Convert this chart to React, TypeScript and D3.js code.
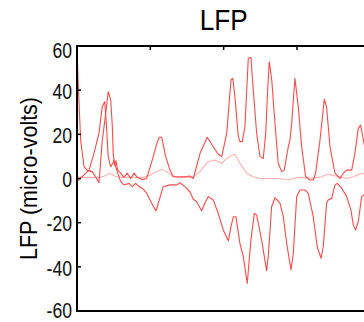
import { useRef, useEffect } from 'react'
import * as d3 from 'd3'

// time (ms) and value (micro-volts)
const upperT = [0, 1, 2.5, 4.8, 7, 10.4, 12.7, 15, 17.2, 19.6, 21.3, 23, 24.1, 24.7, 25.6, 26.6, 27.6, 29.8, 32, 34.3, 36.6, 38.9, 41.1, 44.5, 47.5, 49.8, 52, 54.5, 56.1, 57.7, 60.5, 63.4, 65.7, 70.2, 73.6, 77, 79.3, 83.9, 88.8, 92.9, 96.3, 98.7, 102.1, 105, 106.2, 107.7, 110, 111.1, 112.7, 114.5, 116.8, 118.6, 120.2, 122.5, 124.8, 127, 128.7, 130, 131.1, 132.8, 135, 137.2, 139.6, 141.3, 144.1, 145.2, 146.4, 148.6, 150.9, 153.2, 155.9, 158.9, 161.1, 162.7, 165.7, 168.6, 170.2, 172.5, 175.9, 179.3, 181.6, 183.9, 187.3, 189.5, 191.8, 193.4, 195.7, 198.4, 201.1]
const upperV = [58.5, 40, 17.4, 5.3, 3.8, 3, 0.8, -1.9, 17, 29.6, 39.3, 35.5, 23.5, 11.5, 6, 8, 4, 2.4, 0.5, 2.4, 0, 2.4, 0.5, -0.5, 0, 5, 9.9, 16, 18.7, 18.7, 9.9, 3.8, 0.8, 0.8, 0.8, 1.1, 0, 11.4, 18.7, 14.4, 11, 9.9, 20.5, 44.6, 45.4, 37, 19, 16.7, 16.7, 23.5, 54.4, 54.9, 40, 20.5, 9.9, 9.1, 20.5, 40, 52.9, 44.6, 25, 6.9, 3.1, 3.8, 14.4, 17.4, 25, 45.4, 32.5, 14.4, 0.8, -0.7, -0.7, 2.4, 17.4, 35.9, 32.5, 14.4, 2.4, 0, 2.4, 3.8, 3.8, 11.4, 22.7, 24.2, 16, 5, 2]

const lowerT = [0, 4.8, 8.2, 11.6, 15, 17.2, 18.9, 20, 21.3, 23, 24.5, 25.2, 26.4, 28, 29.8, 32, 35.5, 37.7, 40, 42.3, 44.5, 47.5, 50.9, 53.9, 56.1, 58.8, 63.4, 68, 70.2, 73.6, 77, 79.3, 81.6, 85, 87.3, 89.5, 92.9, 96.3, 99.7, 103.2, 105, 106.6, 108.4, 111.1, 113.4, 116.1, 118.6, 120.9, 122.5, 125.9, 129.3, 130.4, 132.7, 135, 138.4, 140.7, 143, 145.9, 147.5, 149.8, 152, 155.5, 157.7, 161.1, 163.8, 166.4, 167.9, 170.2, 171.3, 173.7, 175.9, 177.5, 180.5, 183.9, 186.8, 188.4, 190, 191.8, 194.1, 195.7, 199.8]
const lowerV = [-1.4, 1.6, 3.8, 11.5, 20.6, 32.5, 34.8, 25, 9.9, 5.3, 7, 8.4, 5.3, 2, -1.4, -2.9, -2.2, -3.7, -2.2, -3.7, -4.4, -6.6, -11.2, -14.7, -9.7, -3.7, -2.9, -2.9, -1.9, -3.7, -6, -9.4, -10.5, -14.6, -11, -8.2, -9.7, -15.8, -23.3, -28.2, -21.8, -17.3, -17.3, -29.4, -35.4, -47.5, -27.9, -15.8, -16.5, -27.9, -41.8, -35.4, -12.8, -8.7, -11.2, -17.3, -29.4, -41.4, -33.9, -8.2, -5.2, -5.2, -6.7, -17.3, -30.9, -36.1, -30.9, -11.2, -9.7, -9, -2.9, -2.2, -4.4, -8.2, -14.3, -21, -23.3, -19.6, -8.2, -7.5, -5]

const meanT = [0, 5.5, 15.7, 18.4, 22.5, 25.9, 29.3, 45, 49.8, 53.9, 57.7, 61.4, 64.8, 68.2, 79.1, 83.9, 89.3, 94.1, 98.7, 102.1, 106.4, 107.7, 111.1, 115.7, 120.2, 124.8, 133.6, 140.5, 144.1, 147.5, 152, 156.6, 162.3, 166.8, 171.3, 174.8, 179.3, 183.9, 188.4, 192.9, 195.7, 199.8]
const meanV = [0.7, 0.5, 0.5, 1, 2.4, 1, 0.5, 0.5, 1.5, 3, 4.2, 3, 1.2, 0.5, 0.5, 3.1, 7.6, 8.4, 6.9, 9.1, 10.8, 11, 6.9, 2.4, 0.8, 0, 0, -0.2, -0.7, 0, 0.5, 0.2, 0.3, 0.8, 2, 1.3, 0.8, 0, 0.8, 2, 2.4, 2.5]

const yTicks = [60, 40, 20, 0, -20, -40, -60]
const xTicks = [50, 100, 150]

const W = 364
const H = 322
const FONT = "'Liberation Sans', Arial, sans-serif"

export default function App() {
  const svgRef = useRef<SVGSVGElement>(null)

  useEffect(() => {
    if (!svgRef.current) return
    const svg = d3.select(svgRef.current)
    svg.selectAll('*').remove()

    const margin = { top: 46, left: 77, bottom: 11 }
    const plotW = 293.3
    const x = d3.scaleLinear().domain([0, 200]).range([margin.left, margin.left + plotW])
    const y = d3.scaleLinear().domain([-60, 60]).range([H - margin.bottom, margin.top])

    svg.append('defs').append('clipPath').attr('id', 'plot-clip')
      .append('rect')
      .attr('x', x(0)).attr('y', y(60))
      .attr('width', x(200) - x(0)).attr('height', y(-60) - y(60))

    const line = d3.line<[number, number]>().x(d => x(d[0])).y(d => y(d[1]))
    const series = [
      { t: meanT, v: meanV, color: '#ffb0b0' },
      { t: lowerT, v: lowerV, color: '#ff4a4a' },
      { t: upperT, v: upperV, color: '#ff4a4a' },
    ]
    const g = svg.append('g').attr('clip-path', 'url(#plot-clip)')
    series.forEach(s => {
      g.append('path')
        .datum(s.t.map((t, i) => [t, s.v[i]] as [number, number]))
        .attr('d', line)
        .attr('fill', 'none')
        .attr('stroke', s.color)
        .attr('stroke-width', 1.1)
        .attr('stroke-linejoin', 'round')
    })

    // frame
    svg.append('rect')
      .attr('x', x(0)).attr('y', y(60))
      .attr('width', x(200) - x(0)).attr('height', y(-60) - y(60))
      .attr('fill', 'none').attr('stroke', '#000').attr('stroke-width', 2)

    // inner ticks on top
    svg.append('g').selectAll('line').data(xTicks).join('line')
      .attr('x1', d => x(d)).attr('x2', d => x(d))
      .attr('y1', y(60)).attr('y2', y(60) + 4)
      .attr('stroke', '#000').attr('stroke-width', 1.5)

    // inner ticks on the left
    svg.append('g').selectAll('line').data(yTicks).join('line')
      .attr('x1', x(0)).attr('x2', x(0) + 4)
      .attr('y1', d => y(d)).attr('y2', d => y(d))
      .attr('stroke', '#000').attr('stroke-width', 1.5)

    svg.append('g').selectAll('text').data(yTicks).join('text')
      .attr('transform', d => `translate(72,${y(d) + (d === 60 ? 4 : d === -60 ? -1 : 1)}) scale(0.8,1)`)
      .attr('text-anchor', 'end')
      .attr('dominant-baseline', 'central')
      .style('font-family', FONT)
      .style('font-size', '22px')
      .style('fill', '#111')
      .text(d => String(d))

    svg.append('text')
      .attr('x', (x(0) + x(200)) / 2).attr('y', 30)
      .attr('text-anchor', 'middle')
      .attr('textLength', 48).attr('lengthAdjust', 'spacingAndGlyphs')
      .style('font-family', FONT)
      .style('font-size', '30px')
      .style('fill', '#000')
      .text('LFP')

    svg.append('text')
      .attr('transform', `translate(37,${y(0)}) rotate(-90)`)
      .attr('text-anchor', 'middle')
      .attr('textLength', 163).attr('lengthAdjust', 'spacingAndGlyphs')
      .style('font-family', FONT)
      .style('font-size', '24px')
      .style('fill', '#000')
      .text('LFP (micro-volts)')
  }, [])

  return (
    <svg ref={svgRef} width={W} height={H}
      style={{ position: 'absolute', left: 0, top: 0, background: '#fff' }} />
  )
}
